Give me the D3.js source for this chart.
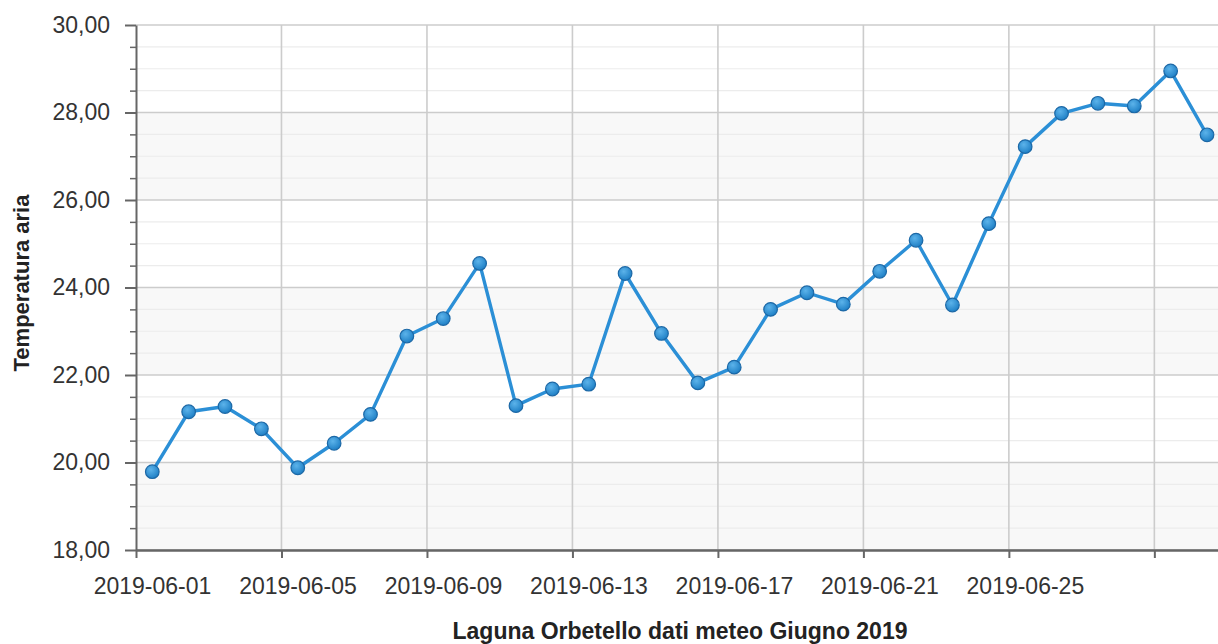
<!DOCTYPE html>
<html>
<head>
<meta charset="utf-8">
<script src="https://cdn.jsdelivr.net/npm/d3@7"></script>
<style>
  body { margin: 0; background: #fff; }
  svg text { font-family: "Liberation Sans", Arial, sans-serif; }
</style>
</head>
<body>
<div id="contenedorGrafico"></div>
<script>
const fechas = [
    "2019-06-01", "2019-06-02", "2019-06-03", "2019-06-04", "2019-06-05",
    "2019-06-06", "2019-06-07", "2019-06-08", "2019-06-09", "2019-06-10",
    "2019-06-11", "2019-06-12", "2019-06-13", "2019-06-14", "2019-06-15",
    "2019-06-16", "2019-06-17", "2019-06-18", "2019-06-19", "2019-06-20",
    "2019-06-21", "2019-06-22", "2019-06-23", "2019-06-24", "2019-06-25",
    "2019-06-26", "2019-06-27", "2019-06-28", "2019-06-29", "2019-06-30"
];
const temperaturas = [
    19.79, 21.16, 21.28, 20.77, 19.88, 20.44, 21.10, 22.89, 23.29, 24.55,
    21.30, 21.68, 21.79, 24.32, 22.95, 21.82, 22.18, 23.50, 23.88, 23.62,
    24.37, 25.08, 23.60, 25.46, 27.22, 27.98, 28.21, 28.15, 28.95, 27.49
];
const marcasY = [18, 20, 22, 24, 26, 28, 30];
const marcasMenoresY = [18.5, 19, 19.5, 20.5, 21, 21.5, 22.5, 23, 23.5, 24.5, 25, 25.5,
    26.5, 27, 27.5, 28.5, 29, 29.5];
const marcasX = ["2019-06-01", "2019-06-05", "2019-06-09", "2019-06-13",
    "2019-06-17", "2019-06-21", "2019-06-25", "2019-06-29"];
const etiquetasX = ["2019-06-01", "2019-06-05", "2019-06-09", "2019-06-13",
    "2019-06-17", "2019-06-21", "2019-06-25", ""];
const tituloY = "Temperatura aria";
const tituloX = "Laguna Orbetello dati meteo Giugno 2019";

const ancho = 1218, alto = 644;
const izquierda = 136, derecha = 1218, arriba = 25, abajo = 550;
const horaMedicion = 10.75; // las medidas caen un poco antes del mediodia

const leerFecha = d3.utcParse("%Y-%m-%d");
const conHora = f => d3.utcMinute.offset(leerFecha(f), horaMedicion * 60);

const datos = fechas.map((f, i) => ({ fecha: conHora(f), valor: temperaturas[i] }));

const x = d3.scaleUtc()
    .domain([leerFecha("2019-06-01"), d3.utcHour.offset(leerFecha("2019-06-30"), 18)])
    .range([izquierda, derecha]);
const y = d3.scaleLinear()
    .domain([18, 30])
    .range([abajo, arriba]);

const $svg = d3.select("#contenedorGrafico")
    .append("svg")
    .attr("width", ancho)
    .attr("height", alto);

const defs = $svg.append("defs");
const grad = defs.append("radialGradient")
    .attr("id", "punto")
    .attr("cx", "40%").attr("cy", "35%").attr("r", "65%");
grad.append("stop").attr("offset", "0%").attr("stop-color", "#5cb3ea");
grad.append("stop").attr("offset", "100%").attr("stop-color", "#1f80c6");

// bandas alternas
const bandas = marcasY.slice(0, -1).map((v, i) => ({ desde: v, hasta: marcasY[i + 1], gris: i % 2 === 0 }));
$svg.append("g")
    .selectAll("rect")
    .data(bandas)
    .join("rect")
    .attr("x", izquierda)
    .attr("width", derecha - izquierda)
    .attr("y", d => y(d.hasta))
    .attr("height", d => y(d.desde) - y(d.hasta))
    .attr("fill", d => d.gris ? "#f8f8f8" : "#ffffff");

// rejilla menor
$svg.append("g")
    .selectAll("line")
    .data(marcasMenoresY)
    .join("line")
    .attr("x1", izquierda).attr("x2", derecha)
    .attr("y1", d => y(d)).attr("y2", d => y(d))
    .attr("stroke", "#ececec")
    .attr("stroke-width", 1.2);

// rejilla mayor
$svg.append("g")
    .selectAll("line")
    .data(marcasY)
    .join("line")
    .attr("x1", izquierda).attr("x2", derecha)
    .attr("y1", d => y(d)).attr("y2", d => y(d))
    .attr("stroke", "#cccccc")
    .attr("stroke-width", 1.6);

$svg.append("g")
    .selectAll("line")
    .data(marcasX.slice(1))
    .join("line")
    .attr("x1", d => x(leerFecha(d))).attr("x2", d => x(leerFecha(d)))
    .attr("y1", arriba).attr("y2", abajo)
    .attr("stroke", "#cccccc")
    .attr("stroke-width", 1.6);

// eje Y
const formato = d => d3.format(".2f")(d).replace(".", ",");
const ejeY = $svg.append("g")
    .attr("transform", `translate(${izquierda},0)`)
    .call(d3.axisLeft(y).tickValues(marcasY).tickFormat(formato)
        .tickSize(11).tickSizeOuter(0).tickPadding(15));
$svg.append("g")
    .attr("transform", `translate(${izquierda},0)`)
    .call(d3.axisLeft(y).tickValues(marcasMenoresY).tickFormat("")
        .tickSize(6).tickSizeOuter(0))
    .call(g => g.select(".domain").remove())
    .selectAll("line").attr("stroke", "#666").attr("stroke-width", 1.5);
ejeY.select(".domain").attr("stroke", "#666").attr("stroke-width", 2);
ejeY.selectAll(".tick line").attr("stroke", "#666").attr("stroke-width", 2);
ejeY.selectAll(".tick text")
    .attr("font-size", 23)
    .attr("fill", "#333")
    .attr("font-family", "'Liberation Sans', Arial, sans-serif");

// eje X
const ejeX = $svg.append("g")
    .attr("transform", `translate(0,${abajo})`)
    .call(d3.axisBottom(x).tickValues(marcasX.map(leerFecha))
        .tickFormat((d, i) => etiquetasX[i]).tickSize(8).tickSizeOuter(0));
ejeX.select(".domain").attr("stroke", "#666").attr("stroke-width", 2.5);
ejeX.selectAll(".tick line").attr("stroke", "#666").attr("stroke-width", 2);
ejeX.selectAll(".tick text")
    .attr("x", 16)
    .attr("y", 44)
    .attr("dy", null)
    .attr("font-size", 23)
    .attr("fill", "#333")
    .attr("font-family", "'Liberation Sans', Arial, sans-serif");

// serie
$svg.append("path")
    .datum(datos)
    .attr("fill", "none")
    .attr("stroke", "#2b8fd6")
    .attr("stroke-width", 3.4)
    .attr("stroke-linejoin", "round")
    .attr("d", d3.line().x(d => x(d.fecha)).y(d => y(d.valor)));

$svg.append("g")
    .selectAll("circle")
    .data(datos)
    .join("circle")
    .attr("cx", d => x(d.fecha))
    .attr("cy", d => y(d.valor))
    .attr("r", 6.8)
    .attr("fill", "url(#punto)")
    .attr("stroke", "#1c68a6")
    .attr("stroke-width", 1.2);

// titulos
$svg.append("text")
    .attr("transform", "translate(29,283) rotate(-90)")
    .attr("text-anchor", "middle")
    .attr("font-size", 22)
    .attr("font-weight", "bold")
    .attr("fill", "#222")
    .text(tituloY);

$svg.append("text")
    .attr("x", (izquierda + derecha) / 2 + 3)
    .attr("y", 639)
    .attr("text-anchor", "middle")
    .attr("font-size", 23)
    .attr("font-weight", "bold")
    .attr("fill", "#222")
    .text(tituloX);
</script>
</body>
</html>
